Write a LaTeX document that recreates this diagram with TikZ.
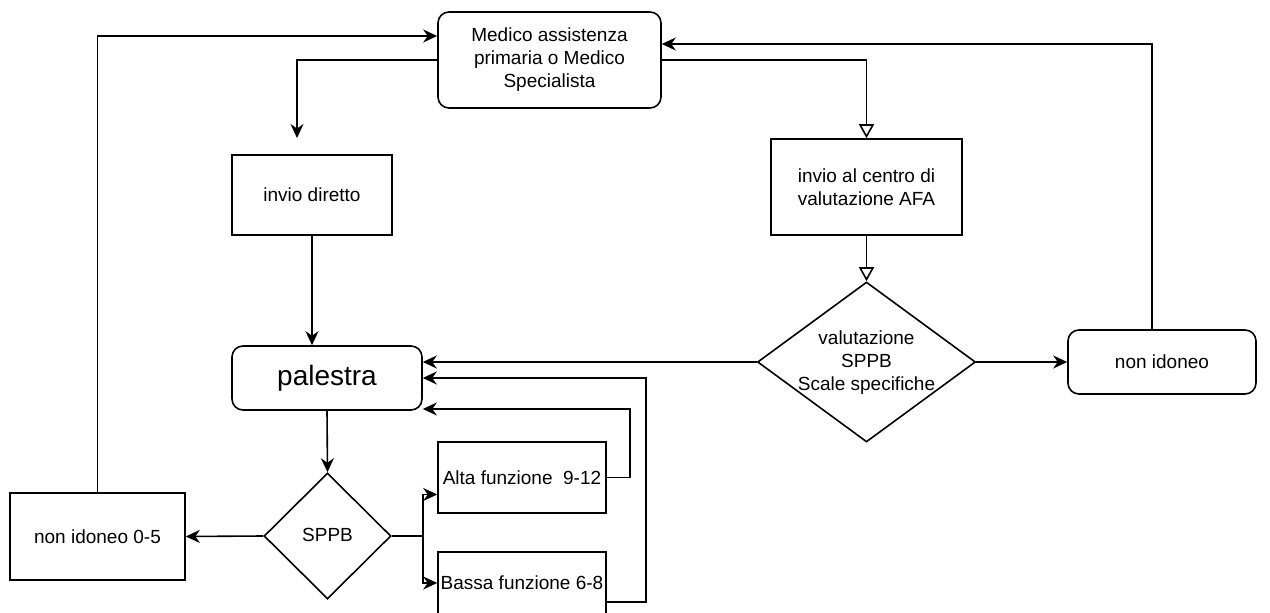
\documentclass[tikz,border=0pt]{standalone}
\usepackage{fontspec}
\setmainfont{Liberation Sans}
\usetikzlibrary{shapes.geometric,arrows.meta}
\tikzset{
  base/.style={draw=black, line width=1.6pt, inner sep=0pt, align=center, font=\fontsize{19}{23}\selectfont},
  box/.style={base, rectangle},
  rbox/.style={base, rectangle, rounded corners=11pt},
  dia/.style={base, diamond},
  conn/.style={line width=1.6pt, -{Stealth[length=14pt, width=13pt, inset=4.5pt]}},
  oconn/.style={line width=1.6pt, -{Triangle[open, length=14pt, width=15pt, line width=1.6pt]}},
  plain/.style={line width=1.6pt}
}
\newcommand{\ztext}[1]{\makebox[0pt]{\smash{\raisebox{-0.3em}{\begin{tabular}{@{}c@{}}#1\end{tabular}}}}}
\begin{document}
\begin{tikzpicture}[x=1pt,y=-1pt]
\useasboundingbox (0,0) rectangle (1270,613);
\node[rbox, minimum width=223pt, minimum height=96pt] (med) at (549.5,60) {Medico assistenza\\primaria o Medico\\Specialista};
\node[box, minimum width=160pt, minimum height=80pt] (dir) at (312,195) {invio diretto};
\node[box, minimum width=191pt, minimum height=96pt] (afa) at (866.5,187) {invio al centro di\\valutazione AFA};
\node[rbox, minimum width=190pt, minimum height=64pt, font=\fontsize{28}{32}\selectfont] (pal) at (327,378) {palestra};
\node[dia, minimum width=218pt, minimum height=160pt] (val) at (866.5,362) {\ztext{valutazione\\SPPB\\Scale specifiche}};
\node[rbox, minimum width=188pt, minimum height=64pt] (ni) at (1162,362) {non idoneo};
\node[dia, minimum width=127pt, minimum height=126pt] (sppb) at (327.5,536) {\ztext{SPPB}};
\node[box, minimum width=168pt, minimum height=71pt] (alta) at (522,477.5) {Alta funzione\ \ 9-12};
\node[box, minimum width=168pt, minimum height=62pt] (bassa) at (522,583) {Bassa funzione 6-8};
\node[box, minimum width=175pt, minimum height=87pt] (ni05) at (97.5,536.5) {non idoneo 0-5};
\coordinate (d1) at (297,138);

\draw[conn] (ni05.north) |- ([yshift=24pt]med.west);
\draw[conn] ([xshift=-10pt]ni.north) |- ([yshift=16pt]med.east);
\draw[conn] (med.west) -| (d1);
\draw[oconn] (med.east) -| (afa.north);
\draw[oconn] (afa.south) -- (val.north);
\draw[conn] (val.west) -- ([yshift=16pt]pal.east);
\draw[conn] (val.east) -- (ni.west);
\draw[conn] (dir.south) -- (dir.south |- pal.north);
\draw[conn] (pal.south) -- (sppb.north);
\draw[conn] (sppb.west) -- (ni05.east);
\draw[conn] (sppb.east) -- ++(31,0) |- ([yshift=-17pt]alta.west);
\draw[conn] (sppb.east) -- ++(31,0) |- (bassa.west);
\draw[conn] (alta.east) -- ++(23,0) |- ([yshift=-31pt]pal.east);
\draw[conn] ([yshift=-19pt]bassa.east) -- ++(39,0) |- (pal.east);
\end{tikzpicture}
\end{document}
